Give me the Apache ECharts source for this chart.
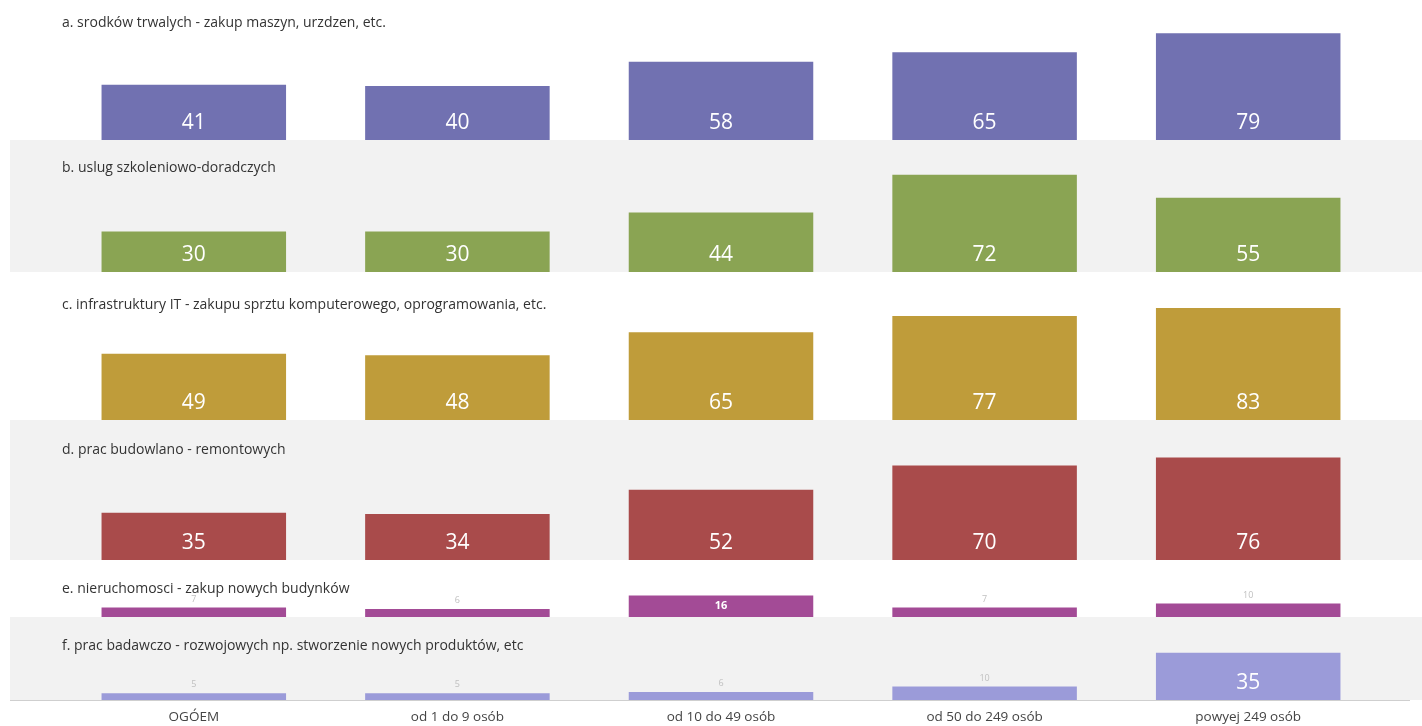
<!DOCTYPE html>
<html>
<head>
<meta charset="utf-8">
<script src="https://cdn.jsdelivr.net/npm/echarts@6/dist/echarts.min.js"></script>
<style>
  html, body { margin: 0; padding: 0; background: #ffffff; }
  #chart { width: 1422px; height: 726px; }
</style>
</head>
<body>
<div id="chart"></div>
<script>
// Company size groups (x categories)
const categories = ['OGÓEM', 'od 1 do 9 osób', 'od 10 do 49 osób', 'od 50 do 249 osób', 'powyej 249 osób'];

// Panel titles
const titles = [
  'a. srodków trwalych - zakup maszyn, urzdzen, etc.',
  'b. uslug szkoleniowo-doradczych',
  'c. infrastruktury IT - zakupu sprztu komputerowego, oprogramowania, etc.',
  'd. prac budowlano - remontowych',
  'e. nieruchomosci - zakup nowych budynków',
  'f. prac badawczo - rozwojowych np. stworzenie nowych produktów, etc'
];

// Values per panel
const srodkiTrwale = [41, 40, 58, 65, 79];
const szkolenia = [30, 30, 44, 72, 55];
const infrastrukturaIT = [49, 48, 65, 77, 83];
const praceBudowlane = [35, 34, 52, 70, 76];
const nieruchomosci = [7, 6, 16, 7, 10];
const praceBR = [5, 5, 6, 10, 35];

const seriesValues = [srodkiTrwale, szkolenia, infrastrukturaIT, praceBudowlane, nieruchomosci, praceBR];
const colors = ['#7171b1', '#8aa453', '#bf9c3a', '#a94b4b', '#a34b96', '#9b9bd9'];

// Layout of the stacked bands
const bandTops = [0, 140, 272, 420, 560, 617];
const baselines = [140, 272, 420, 560, 617, 700];
const titleTops = [12, 157, 294, 439, 578, 635];
const bandFill = ['#ffffff', '#f2f2f2', '#ffffff', '#f2f2f2', '#ffffff', '#f2f2f2'];
const pxPerUnit = 1.35;
const gridLeft = 62, gridRight = 42;
const FONT = '"Open Sans", "Noto Sans", sans-serif';

const grids = [], xAxes = [], yAxes = [], series = [], titleList = [], graphics = [];

seriesValues.forEach((vals, i) => {
  const top = bandTops[i] + 20;
  const height = baselines[i] - top;
  graphics.push({
    type: 'rect', z: -10, silent: true,
    shape: { x: 10, y: bandTops[i], width: 1412, height: baselines[i] - bandTops[i] },
    style: { fill: bandFill[i] }
  });
  titleList.push({
    text: titles[i], left: 57, top: titleTops[i] - 1,
    textStyle: { fontFamily: FONT, fontSize: 14, fontWeight: 'normal', color: '#333333' }
  });
  grids.push({ left: gridLeft, right: gridRight, top: top, height: height, containLabel: false });
  const last = i === seriesValues.length - 1;
  xAxes.push({
    type: 'category', gridIndex: i, data: categories,
    axisTick: { show: false },
    axisLine: { show: false },
    axisLabel: { show: last, fontFamily: FONT, fontSize: 13.5, color: '#444444', margin: 10 },
    splitLine: { show: false }
  });
  yAxes.push({
    type: 'value', gridIndex: i, min: 0, max: height / pxPerUnit, show: false,
    splitLine: { show: false }
  });
  series.push({
    type: 'bar', xAxisIndex: i, yAxisIndex: i,
    barCategoryGap: '30%',
    itemStyle: { color: colors[i] },
    data: vals.map(v => {
      const h = v * pxPerUnit;
      let label;
      if (h >= 40) {
        label = { show: true, position: 'insideBottom', distance: 6, color: '#ffffff',
                  fontFamily: FONT, fontSize: 21, fontWeight: 'normal' };
      } else if (h >= 18) {
        label = { show: true, position: 'inside', color: '#ffffff',
                  fontFamily: FONT, fontSize: 11, fontWeight: 'bold' };
      } else {
        label = { show: true, position: 'top', distance: 4, color: '#c0c0c0',
                  fontFamily: FONT, fontSize: 9 };
      }
      return { value: v, label: label };
    })
  });
});

// thin rule under the last band
graphics.push({
  type: 'line', silent: true, z: 5,
  shape: { x1: 10, y1: 700.5, x2: 1410, y2: 700.5 },
  style: { stroke: '#cfcfcf', lineWidth: 1 }
});

const chart = echarts.init(document.getElementById('chart'));
chart.setOption({
  animation: false,
  backgroundColor: '#ffffff',
  title: titleList,
  graphic: graphics,
  grid: grids,
  xAxis: xAxes,
  yAxis: yAxes,
  series: series
});
</script>
</body>
</html>
